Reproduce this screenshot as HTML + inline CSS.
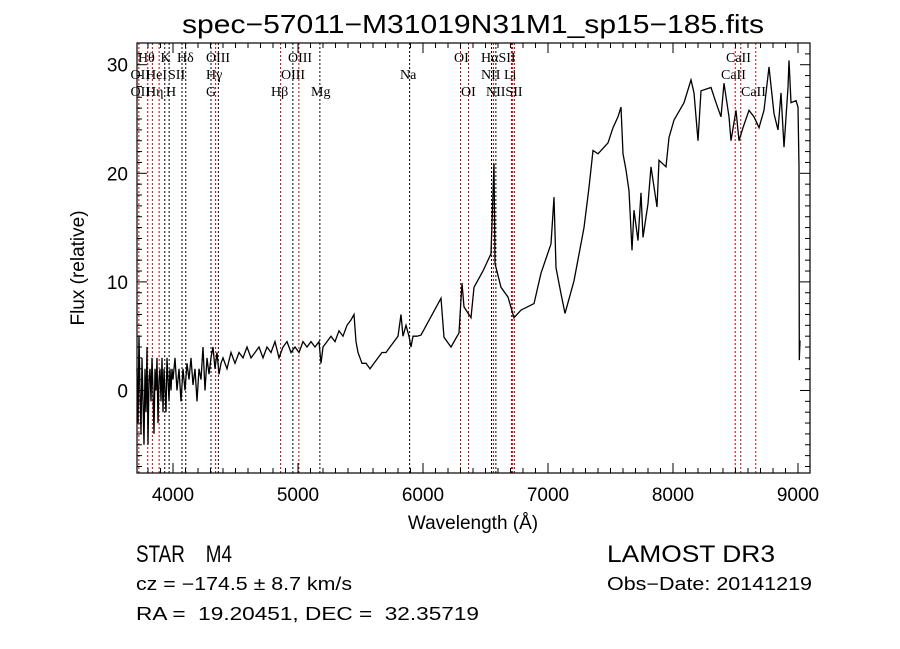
<!DOCTYPE html>
<html><head><meta charset="utf-8">
<style>
html,body{margin:0;padding:0;background:#fff;}
svg{display:block;}
text{font-family:"Liberation Serif",serif;fill:#000;white-space:pre;}
.t{font-family:"Liberation Sans",sans-serif;}
</style></head>
<body>
<svg id="chart" width="900" height="649" viewBox="0 0 900 649" xml:space="preserve">
<text class="t" x="182" y="33" font-size="26" textLength="582" lengthAdjust="spacingAndGlyphs">spec−57011−M31019N31M1_sp15−185.fits</text>
<text class="t" x="473" y="529" font-size="19" text-anchor="middle">Wavelength (Å)</text>
<text class="t" x="0" y="0" font-size="19" text-anchor="middle" transform="translate(84,268) rotate(-90)">Flux (relative)</text>
<g id="lines"></g>
<g id="spec"></g>
<g id="axes"></g>
<g id="labels"></g>
<text class="t" x="136" y="562" font-size="24" textLength="96" lengthAdjust="spacingAndGlyphs">STAR    M4</text>
<text class="t" x="607" y="562" font-size="24" textLength="168" lengthAdjust="spacingAndGlyphs">LAMOST DR3</text>
<text class="t" x="136" y="590" font-size="18" textLength="216" lengthAdjust="spacingAndGlyphs">cz = −174.5 ± 8.7 km/s</text>
<text class="t" x="607" y="590" font-size="18" textLength="205" lengthAdjust="spacingAndGlyphs">Obs−Date: 20141219</text>
<text class="t" x="136" y="620" font-size="18" textLength="343" lengthAdjust="spacingAndGlyphs">RA =  19.20451, DEC =  32.35719</text>
</svg>
<script>
const wavelengths = [3712,3720,3728,3736,3744,3752,3760,3768,3776,3784,3792,3800,3808,3816,3824,3832,3840,3848,3856,3864,3872,3880,3888,3896,3904,3912,3920,3928,3936,3944,3952,3960,3968,3976,3984,3992,4000,4016,4032,4048,4064,4080,4096,4112,4128,4144,4160,4176,4192,4208,4224,4240,4256,4272,4288,4304,4320,4336,4352,4368,4384,4400,4432,4464,4496,4528,4560,4592,4624,4656,4688,4720,4752,4784,4816,4848,4880,4912,4944,4976,5008,5040,5072,5104,5136,5168,5184,5200,5232,5264,5296,5328,5360,5392,5424,5448,5464,5480,5512,5544,5576,5608,5640,5672,5704,5736,5768,5800,5824,5840,5864,5888,5904,5920,5952,5984,6144,6168,6224,6288,6312,6328,6384,6408,6480,6544,6568,6576,6624,6680,6728,6784,6888,6944,7024,7048,7064,7104,7136,7208,7288,7328,7360,7400,7480,7520,7560,7584,7600,7624,7648,7672,7688,7720,7744,7760,7800,7824,7872,7888,7944,7968,8008,8088,8144,8168,8200,8224,8304,8344,8384,8408,8448,8464,8504,8528,8560,8608,8648,8688,8728,8768,8808,8840,8864,8888,8920,8928,8944,8984,9000,9008,9010,9016];
const fluxes = [2,-3,5,0,-4,3,-1,-5,2,-2,4,-5,1,2,-1,3,0,-4,2,0,3,-3,1,2,-1,3,-2,2,0,-2,3,1,-1,2,0,2,1,3,0,2,-1,2,0,2.5,1,3,0.5,2,-1,2,1,4,0,3,1.5,3,4,2,3.5,1.5,2.5,3,2,3.5,2.5,3.5,3,4,3,3.5,4,3,4,3.5,4.5,3,4,4.5,3.5,4,3.5,4.5,4,4.5,4,4.5,2.5,4,4.5,5,4.5,5.5,5,6,6.5,7,4.5,3.5,2.5,2.5,2,2.5,3,3.5,3.5,4,4.5,5,7,5,6,5,4,5,5,5.1,8.5,4.9,4.0,5.3,9.9,7.7,6.7,9.5,11,12.6,20.9,11.7,9.5,8.6,6.7,7.4,8.0,10.8,13.5,17.8,11.3,8.9,7.1,10.1,15.0,18.7,22.1,21.8,22.8,24.2,25.2,26.1,21.8,20.3,18.4,12.9,16.6,13.8,18.2,14.1,17.2,20.6,16.9,21.2,20.6,23.3,24.9,26.5,28.6,27.4,23.0,27.6,27.9,26.5,25.2,28.3,25.2,23.0,25.8,23.0,24.2,25.8,25.2,24.2,25.8,29.8,25.5,24.0,27.4,22.4,27.9,30.4,26.5,26.7,26.1,20.6,2.8,4.6];
const lineWaves = [3727,3798,3835,3889,3934,3969,4072,4102,4304,4341,4363,4861,4959,5007,5175,5893,6300,6364,6548,6563,6583,6708,6717,6731,8498,8542,8662];
const lineColors = ['r','r','r','r','k','k','k','k','k','r','k','r','k','r','k','k','r','r','k','r','k','r','r','r','r','r','r'];
const labelTexts = ['Hθ','K','Hδ','OIII','OIII','OI','HαSII','CaII','OII','HeI','SII','Hγ','OIII','Na','NII','Li','CaII','OII','Hη','H','G','Hβ','Mg','OI','NIISII','CaII'];
const labelWaves = [3720,3900,4032,4264,4920,6248,6464,8424,3660,3784,3960,4264,4864,5816,6464,6648,8384,3660,3784,3944,4264,4784,5104,6304,6504,8544];
const labelRows = [0,0,0,0,0,0,0,0,1,1,1,1,1,1,1,1,1,2,2,2,2,2,2,2,2,2];
const xTicks = [4000,5000,6000,7000,8000,9000];
const yTicks = [0,10,20,30];

const X0=137,X1=810,Y0=43,Y1=473;
const xMin=3712,xMax=9096,yMin=-7.6,yMax=32;
const sx=v=>X0+(v-xMin)/(xMax-xMin)*(X1-X0);
const sy=v=>Y1-(v-yMin)/(yMax-yMin)*(Y1-Y0);
const NS='http://www.w3.org/2000/svg';
function mk(tag,attrs,parent){const e=document.createElementNS(NS,tag);for(const k in attrs)e.setAttribute(k,attrs[k]);parent.appendChild(e);return e;}

const gl=document.getElementById('lines');
lineWaves.forEach((w,i)=>{
  const l=mk('line',{x1:sx(w),x2:sx(w),y1:Y0,y2:Y1,stroke:lineColors[i]==='r'?'#c00000':'#000','stroke-width':1,'stroke-dasharray':'2,2'},gl);
  
  
});

const gs=document.getElementById('spec');
let d='';
wavelengths.forEach((w,i)=>{d+=(i?'L':'M')+sx(w).toFixed(1)+','+sy(Math.max(yMin,Math.min(yMax,fluxes[i]))).toFixed(1);});
const p=mk('path',{d:d,fill:'none',stroke:'#000','stroke-width':1.3,'stroke-linejoin':'miter'},gs);



const ga=document.getElementById('axes');
const fr=mk('rect',{x:X0,y:Y0,width:X1-X0,height:Y1-Y0,fill:'none',stroke:'#000','stroke-width':1.2},ga);


for(let w=3800;w<=9096;w+=100){
  const maj=w%1000===0, L=maj?10:5;
  mk('line',{x1:sx(w),x2:sx(w),y1:Y1,y2:Y1-L,stroke:'#000'},ga);
  mk('line',{x1:sx(w),x2:sx(w),y1:Y0,y2:Y0+L,stroke:'#000'},ga);
}
for(let v=-7;v<=32;v+=1){
  const maj=v%10===0, L=maj?10:5;
  mk('line',{x1:X0,x2:X0+L,y1:sy(v),y2:sy(v),stroke:'#000'},ga);
  mk('line',{x1:X1,x2:X1-L,y1:sy(v),y2:sy(v),stroke:'#000'},ga);
}
xTicks.forEach(v=>{
  const t=mk('text',{x:sx(v),y:Y1+28,'font-size':19,'text-anchor':'middle',class:'t'},ga);
  t.textContent=v;
  
  
});
yTicks.forEach(v=>{
  const t=mk('text',{x:X0-9,y:sy(v)+7,'font-size':19,'text-anchor':'end',class:'t'},ga);
  t.textContent=v;
  
  
});

const gla=document.getElementById('labels');
const rowY=[62,79,96];
labelTexts.forEach((s,i)=>{
  const t=mk('text',{x:sx(labelWaves[i]),y:rowY[labelRows[i]],'font-size':14},gla);
  t.textContent=s;
  
  
});
</script>
</body></html>
